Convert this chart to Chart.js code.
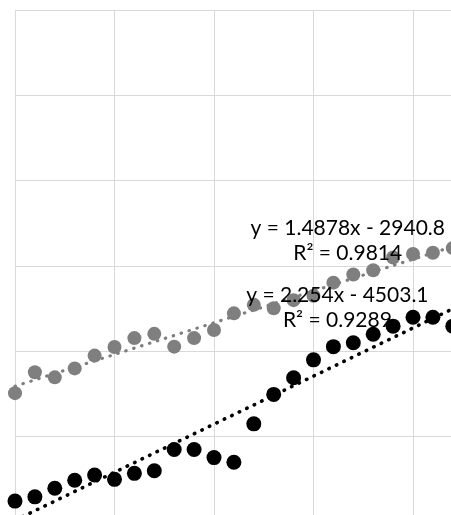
<!DOCTYPE html>
<html>
<head>
<meta charset="utf-8">
<script src="https://cdn.jsdelivr.net/npm/chart.js@4.4.1/dist/chart.umd.min.js"></script>
<style>
    html, body { margin: 0; padding: 0; background: #ffffff; overflow: hidden; }
    #wrap { width: 451px; height: 515px; overflow: hidden; }
    #trendChart { display: block; }
</style>
</head>
<body>
<div id="wrap"><canvas id="trendChart" width="520" height="530"></canvas></div>
<script>
// values
const years = [1998, 1999, 2000, 2001, 2002, 2003, 2004, 2005, 2006, 2007, 2008, 2009,
               2010, 2011, 2012, 2013, 2014, 2015, 2016, 2017, 2018, 2019, 2020];
const gray_values = [30.2, 35.1, 33.9, 36.0, 39.0, 41.0, 43.1, 44.1, 41.1, 43.1, 45.0, 48.9,
                     50.9, 50.1, 52.0, 53.0, 56.1, 58.0, 59.0, 62.0, 62.8, 63.1, 64.2];
const black_values = [4.9, 5.9, 7.9, 9.8, 11.0, 10.0, 11.4, 12.0, 17.0, 17.0, 15.1, 14.0,
                      23.0, 29.9, 33.8, 38.0, 41.1, 42.0, 44.0, 45.9, 48.0, 48.0, 45.9];

// trendline labels shown on the chart
const slopes = [1.4878, 2.254];
const intercepts = [-2940.8, -4503.1];
const equations = ["y = 1.4878x - 2940.8", "y = 2.254x - 4503.1"];
const r_squared = ["R\u00b2 = 0.9814", "R\u00b2 = 0.9289"];

function to_points(values) {
    return values.map(function (v, i) {
        return { x: years[i], y: v };
    });
}

function trend_points(i) {
    const first = years[0];
    const last = years[years.length - 1];
    return [
        { x: first, y: slopes[i] * first + intercepts[i] },
        { x: last, y: slopes[i] * last + intercepts[i] }
    ];
}

const trendLabels = {
    id: 'trendLabels',
    afterDatasetsDraw(chart, args, opts) {
        const ctx = chart.ctx;
        const xs = chart.scales.x;
        const ys = chart.scales.y;
        ctx.save();
        ctx.font = opts.font;
        ctx.fillStyle = opts.color;
        ctx.textAlign = 'center';
        ctx.textBaseline = 'alphabetic';
        opts.anchors.forEach(function (a, i) {
            const px = xs.getPixelForValue(a.x);
            const py = ys.getPixelForValue(a.y);
            ctx.fillText(equations[i], px, py);
            ctx.fillText(r_squared[i], px, py + opts.lineHeight);
        });
        ctx.restore();
    }
};

const gray = '#7f7f7f';

const data = {
    datasets: [
        {
            label: 'black',
            data: to_points(black_values),
            backgroundColor: '#000000',
            borderWidth: 0,
            pointRadius: 7.5,
            clip: false,
            order: 1
        },
        {
            label: 'black trend',
            type: 'line',
            data: trend_points(1),
            borderColor: '#000000',
            borderWidth: 3.6,
            borderDash: [0.5, 7.8],
            borderCapStyle: 'round',
            pointRadius: 0,
            fill: false,
            clip: false,
            order: 2
        },
        {
            label: 'gray',
            data: to_points(gray_values),
            backgroundColor: gray,
            borderWidth: 0,
            pointRadius: 7,
            clip: false,
            order: 3
        },
        {
            label: 'gray trend',
            type: 'line',
            data: trend_points(0),
            borderColor: gray,
            borderWidth: 3.2,
            borderDash: [0.5, 7.8],
            borderCapStyle: 'round',
            pointRadius: 0,
            fill: false,
            clip: false,
            order: 4
        }
    ]
};

const config = {
    type: 'scatter',
    data: data,
    plugins: [trendLabels],
    options: {
        responsive: false,
        animation: false,
        events: [],
        layout: { padding: { left: 15, top: 10, right: 5, bottom: 8 } },
        scales: {
            x: {
                type: 'linear',
                min: 1998,
                max: 2023,
                ticks: { display: false, stepSize: 5 },
                grid: { color: '#d9d9d9', lineWidth: 1, drawTicks: false },
                border: { display: false }
            },
            y: {
                min: 0,
                max: 120,
                ticks: { display: false, stepSize: 20 },
                grid: { color: '#d9d9d9', lineWidth: 1, drawTicks: false },
                border: { display: false }
            }
        },
        plugins: {
            legend: { display: false },
            tooltip: { enabled: false },
            trendLabels: {
                font: '21px Lato',
                color: '#000000',
                lineHeight: 25,
                anchors: [{ x: 2014.72, y: 67.27 }, { x: 2014.2, y: 51.64 }]
            }
        }
    }
};

const myChart = new Chart(document.getElementById('trendChart'), config);
</script>
</body>
</html>
